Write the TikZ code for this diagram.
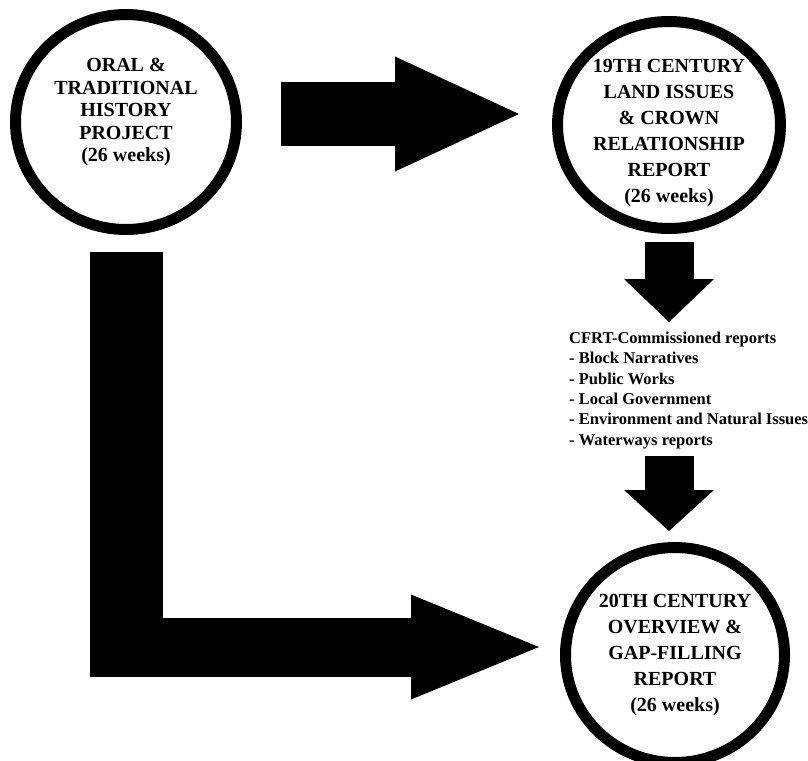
\documentclass[tikz,border=0pt]{standalone}
\usepackage{fontspec}
\setmainfont{Liberation Serif}
\usetikzlibrary{arrows.meta,shapes.geometric}

\begin{document}
\begin{tikzpicture}[x=1pt, y=-1pt,
 ring/.style={ellipse, draw, line width=11pt, inner sep=0pt},
 title/.style={align=center, inner sep=0pt, font=\fontsize{20}{26}\selectfont\bfseries},
 list/.style={inner sep=0pt, align=left, font=\fontsize{16.5}{20.3}\selectfont\bfseries},
 flow/.style args={#1/#2/#3}{line width=#1pt, -{Triangle[length=#2pt, width=#3pt, line width=0pt]}},
 bar/.style={line width=#1pt}]

 \useasboundingbox (0,0) rectangle (808,760);

 % --- the three reports ---
 \node[ring, minimum width=221pt, minimum height=215pt] (oral) at (126,122) {};
 \node[title, font=\fontsize{20}{22.5}\selectfont\bfseries, yshift=10pt] (oraltxt) at (oral) {ORAL \&\\TRADITIONAL\\HISTORY\\PROJECT\\(26 weeks)};

 \node[ring, minimum width=223pt, minimum height=207pt] (land) at (669,125) {};
 \node[title, yshift=-8pt] (landtxt) at (land) {19TH CENTURY\\LAND ISSUES\\\& CROWN\\RELATIONSHIP\\REPORT\\(26 weeks)};

 \node[ring, minimum width=219pt, minimum height=215pt] (gap) at (675,655) {};
 \node[title] (gaptxt) at (gap) {20TH CENTURY\\OVERVIEW \&\\GAP-FILLING\\REPORT\\(26 weeks)};

 \node[list, anchor=north west] (cfrt) at (569,332) {CFRT-Commissioned reports\\- Block Narratives\\- Public Works\\- Local Government\\- Environment and Natural Issues\\- Waterways reports};

 % --- block arrows ---
 \draw[flow=64/124/115, shorten <=39pt, shorten >=33pt] ([yshift=8pt]oral.east) -- ([yshift=8pt]oral.east -| land.west);
 \draw[flow=49/43/90, shorten <=8pt, shorten >=10pt] (land.south) -- (land.south |- cfrt.north);
 \draw[flow=49/41/90, shorten <=7pt, shorten >=11pt] (land.south |- cfrt.south) -- (land.south |- gap.north);

 % L-shaped arrow down the left side
 \coordinate (elbow) at (127,647);
 \draw[bar=73, shorten <=17pt, shorten >=-30pt] (oral.south) -- (oral.south |- elbow);
 \draw[flow=59/128/105, shorten <=-36pt, shorten >=21pt] (oral.south |- elbow) -- (elbow -| gap.west);
\end{tikzpicture}
\end{document}
